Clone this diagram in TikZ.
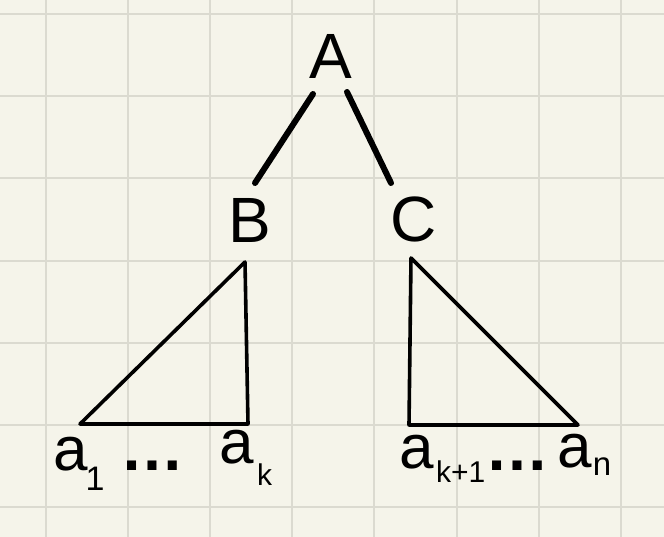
\documentclass[tikz,border=0pt]{standalone}
\usepackage{fontspec}
\setmainfont{Liberation Sans}
\definecolor{paper}{RGB}{245,244,234}
\definecolor{gridc}{RGB}{219,218,208}
\begin{document}
\begin{tikzpicture}[x=1pt,y=-1pt,
  lbl/.style={inner sep=0pt, outer sep=0pt, anchor=base west, font=\fontsize{64}{70}\selectfont},
  sml/.style={inner sep=0pt, outer sep=0pt, anchor=base west, font=\fontsize{30}{34}\selectfont},
  dotsx/.style={inner sep=0pt, outer sep=0pt, anchor=base west, font=\fontsize{64}{70}\selectfont\bfseries},
  edge/.style={line width=6pt, line cap=round},
  tri/.style={line width=3.6pt, line join=round, line cap=round}]
\fill[paper] (0,0) rectangle (664,537);
\useasboundingbox (0,0) rectangle (664,537);
% grid
\foreach \k in {0,...,7} {
  \draw[gridc, line width=2pt] ({45.5+82.2*\k},0) -- ({45.5+82.2*\k},537);
}
\foreach \k in {0,...,6} {
  \draw[gridc, line width=2pt] (0,{14+82.2*\k}) -- (664,{14+82.2*\k});
}
% labels
\node[lbl] (A) at (309,79) {A};
\node[lbl] (B) at (228,243) {B};
\node[lbl] (C) at (390,242) {C};
\node[lbl, font=\fontsize{62}{70}\selectfont] (a1) at (53.7,470) {a};
\node[sml, font=\fontsize{34}{38}\selectfont] (s1) at (85.5,490) {1};
\node[dotsx] (d1) at (120.6,470) {…};
\node[lbl, font=\fontsize{62}{70}\selectfont] (ak) at (219.7,463) {a};
\node[sml] (sk) at (257,485) {k};
\node[lbl, font=\fontsize{62}{70}\selectfont] (ak1) at (399.7,468) {a};
\node[sml] (sk1) at (436,482) {k+1};
\node[dotsx] (d2) at (485.6,470) {…};
\node[lbl, font=\fontsize{62}{70}\selectfont] (an) at (557.7,467) {a};
\node[sml, font=\fontsize{33}{36}\selectfont] (sn) at (592.8,475) {n};
% edges
\coordinate (AB1) at (313,94);
\coordinate (AB2) at (255,183);
\coordinate (AC1) at (347,92);
\coordinate (AC2) at (391,183);
\draw[edge] (AB1) -- (AB2);
\draw[edge] (AC1) -- (AC2);
% triangles
\coordinate (L1) at (245,262);
\coordinate (L2) at (80,424);
\coordinate (L3) at (248,424);
\coordinate (R1) at (411,258);
\coordinate (R2) at (409,425);
\coordinate (R3) at (578,425);
\draw[tri] (L1) -- (L2) -- (L3) -- cycle;
\draw[tri] (R1) -- (R2) -- (R3) -- cycle;
\end{tikzpicture}
\end{document}
